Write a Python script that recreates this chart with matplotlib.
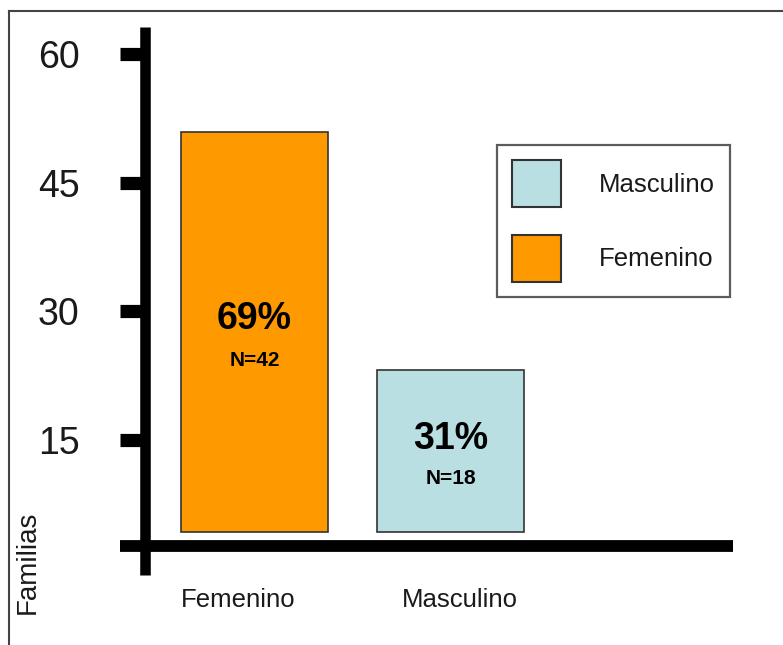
import matplotlib
matplotlib.use('Agg')
import matplotlib.pyplot as plt
from matplotlib.patches import Patch
from matplotlib.lines import Line2D

# data
categories = ['Femenino', 'Masculino']
bar_top = [50.9, 23.2]
bar_base = 4.3
pct_labels = ['69%', '31%']
n_labels = ['N=42', 'N=18']
yticks = [15, 30, 45, 60]
legend_order = ['Masculino', 'Femenino']

colors = {'Femenino': '#FF9900', 'Masculino': '#B9DFE3'}
edge = '#333333'
txt = '#1a1a1a'
fam = ['Liberation Sans', 'DejaVu Sans']

W, H = 783, 645
fig = plt.figure(figsize=(W / 100, H / 100), dpi=100)
ax = fig.add_axes([0, 0, 1, 1])
ax.patch.set_alpha(0)

# pixel -> data mapping used to place the axes like the original
px_x = 196.0      # pixels per category step
x0_px = 254.5     # centre of first bar
px_y = 8.573      # pixels per unit
y0_px = 568.5     # pixel row of value 0
ax.set_xlim(-x0_px / px_x, (W - x0_px) / px_x)
ax.set_ylim((y0_px - H) / px_y, y0_px / px_y)

def dx(p):
    return (p - x0_px) / px_x

def dy(p):
    return (y0_px - p) / px_y

xs = list(range(len(categories)))
heights = [t - bar_base for t in bar_top]
ax.bar(xs, heights, bottom=bar_base, width=0.75,
       color=[colors[c] for c in categories], edgecolor=edge, linewidth=1.2)

for x, p, n, yp, yn in zip(xs, pct_labels, n_labels, [319, 439], [360, 479]):
    ax.text(x, dy(yp), p, ha='center', va='center', fontsize=27,
            fontweight='bold', family=fam, color='black')
    ax.text(x, dy(yn), n, ha='center', va='center', fontsize=15,
            fontweight='bold', family=fam, color='black')

# thick axes
for s in ['top', 'right']:
    ax.spines[s].set_visible(False)
ax.spines['left'].set_position(('data', dx(145)))
ax.spines['left'].set_bounds(dy(575), dy(27))
ax.spines['left'].set_linewidth(7.6)
ax.spines['bottom'].set_position(('data', dy(546)))
ax.spines['bottom'].set_bounds(dx(120), dx(733))
ax.spines['bottom'].set_linewidth(8.5)
ax.spines['left'].set_capstyle('butt')
ax.spines['bottom'].set_capstyle('butt')

ax.set_yticks(yticks)
ax.set_yticklabels([str(v) for v in yticks], family=fam, fontsize=27, color=txt)
ax.tick_params(axis='y', direction='out', length=18, width=9.5, pad=29, color='black')
ax.set_xticks([])

# category labels under the axis
for c, xp in zip(categories, [238, 460]):
    ax.text(dx(xp), dy(600), c, ha='center', va='center', fontsize=18.5,
            family=fam, color=txt)

fig.text(27.5 / W, 1 - 562 / H, 'Familias', rotation=90, ha='center', va='center',
         fontsize=20, family=fam, color=txt)

handles = [Patch(facecolor=colors[c], edgecolor=edge, linewidth=1.5, label=c)
           for c in legend_order]
leg = ax.legend(handles=handles, loc='upper left',
                bbox_to_anchor=(497 / W, 1 - 145 / H), bbox_transform=fig.transFigure,
                borderaxespad=0, fancybox=False, frameon=True,
                prop={'family': fam, 'size': 18.5},
                handlelength=1.9, handleheight=2.44, labelspacing=1.07,
                handletextpad=1.45, borderpad=0.6)
leg.get_frame().set_edgecolor('#333333')
leg.get_frame().set_linewidth(1.6)
for t in leg.get_texts():
    t.set_color(txt)

# outer frame (left and top edge of the original image border)
fig.add_artist(Line2D([9 / W, 9 / W], [0, 1 - 11 / H], transform=fig.transFigure,
                      color='#444444', lw=1.5))
fig.add_artist(Line2D([9 / W, 1], [1 - 11 / H, 1 - 11 / H], transform=fig.transFigure,
                      color='#444444', lw=1.5))

plt.savefig('out.png', dpi=100)
